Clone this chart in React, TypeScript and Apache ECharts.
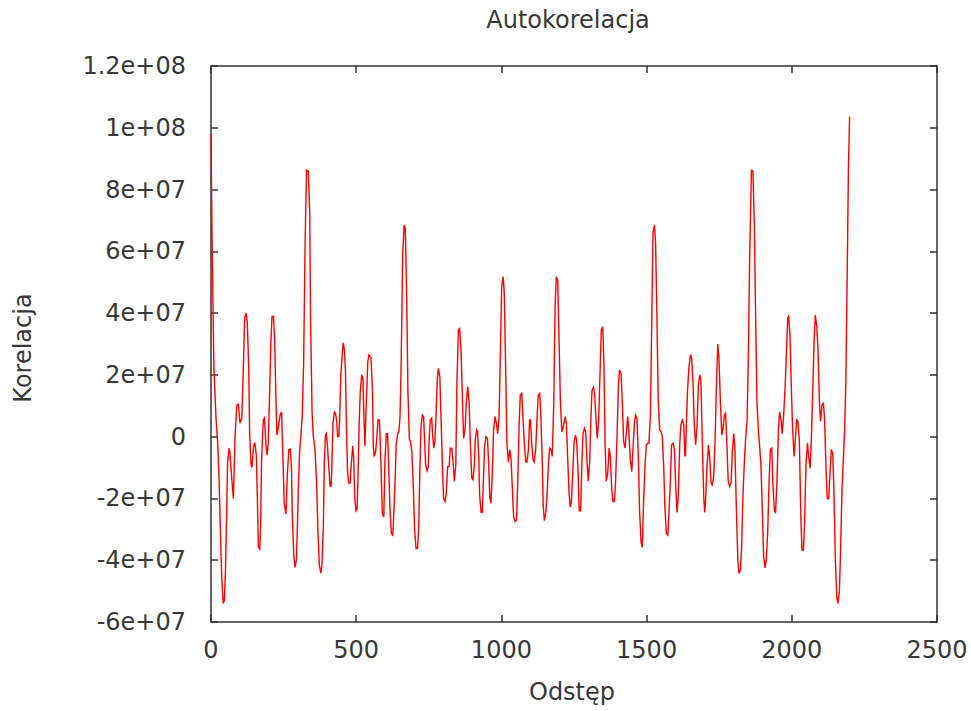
import React, { useEffect, useRef } from "react";
import * as echarts from "echarts";

// Autocorrelation: lag (Odstęp) and value in millions
const LAGS = [
  0, 4, 10, 17, 23, 28, 32, 37, 42, 46, 50, 54, 57, 62, 65, 71, 77, 83, 89, 94,
  100, 106, 111, 116, 121, 125, 130, 133, 138, 141, 147, 151, 156, 160, 163, 168, 171, 174, 180, 184,
  189, 193, 197, 201, 206, 210, 215, 219, 224, 227, 232, 238, 243, 248, 252, 258, 263, 268, 273, 277,
  280, 285, 289, 294, 297, 301, 305, 310, 314, 319, 324, 329, 335, 340, 343, 348, 352, 358, 364, 368,
  373, 378, 382, 387, 390, 394, 397, 401, 405, 410, 414, 417, 420, 425, 429, 433, 436, 440, 443, 447,
  451, 455, 459, 463, 466, 470, 474, 479, 483, 488, 491, 495, 499, 503, 506, 510, 514, 519, 523, 527,
  530, 535, 540, 544, 551, 556, 559, 562, 567, 572, 575, 580, 583, 587, 590, 595, 599, 604, 608, 612,
  616, 621, 626, 629, 634, 638, 643, 647, 651, 655, 660, 665, 669, 674, 678, 683, 688, 692, 697, 701,
  706, 711, 715, 719, 723, 728, 732, 736, 739, 744, 748, 752, 755, 760, 763, 767, 771, 775, 779, 783,
  788, 792, 797, 801, 806, 810, 815, 820, 824, 829, 833, 838, 843, 847, 852, 856, 861, 866, 870, 875,
  879, 884, 889, 893, 898, 902, 907, 910, 915, 918, 922, 925, 930, 934, 938, 942, 947, 952, 956, 960,
  964, 969, 973, 978, 983, 987, 992, 996, 1001, 1006, 1010, 1015, 1019, 1024, 1029, 1033, 1038, 1042, 1047, 1052,
  1056, 1061, 1065, 1070, 1074, 1079, 1084, 1088, 1093, 1097, 1100, 1104, 1109, 1113, 1118, 1123, 1127, 1132, 1136, 1141,
  1144, 1148, 1153, 1157, 1162, 1166, 1171, 1175, 1180, 1185, 1189, 1194, 1198, 1203, 1208, 1212, 1217, 1220, 1224, 1228,
  1233, 1237, 1241, 1246, 1250, 1255, 1259, 1264, 1268, 1273, 1277, 1281, 1286, 1290, 1295, 1299, 1304, 1308, 1312, 1317,
  1321, 1326, 1330, 1335, 1340, 1344, 1349, 1353, 1357, 1361, 1366, 1371, 1375, 1380, 1384, 1389, 1393, 1398, 1403, 1407,
  1412, 1416, 1421, 1426, 1430, 1435, 1439, 1444, 1449, 1453, 1458, 1462, 1467, 1472, 1476, 1481, 1485, 1490, 1495, 1499,
  1504, 1508, 1513, 1517, 1522, 1527, 1531, 1536, 1540, 1545, 1550, 1554, 1559, 1563, 1568, 1573, 1577, 1582, 1586, 1591,
  1596, 1600, 1605, 1609, 1614, 1618, 1623, 1628, 1632, 1634, 1637, 1641, 1646, 1651, 1655, 1660, 1664, 1669, 1674, 1678,
  1683, 1687, 1692, 1697, 1700, 1703, 1708, 1713, 1717, 1722, 1726, 1731, 1736, 1740, 1745, 1749, 1754, 1759, 1763, 1768,
  1772, 1777, 1781, 1786, 1791, 1795, 1800, 1804, 1809, 1814, 1818, 1823, 1827, 1832, 1837, 1841, 1846, 1850, 1855, 1861,
  1866, 1871, 1876, 1880, 1885, 1889, 1894, 1899, 1903, 1908, 1912, 1917, 1922, 1926, 1931, 1935, 1940, 1944, 1949, 1954,
  1958, 1963, 1967, 1972, 1977, 1981, 1986, 1989, 1994, 1998, 2003, 2008, 2012, 2017, 2021, 2026, 2031, 2035, 2040, 2044,
  2049, 2054, 2058, 2063, 2067, 2072, 2077, 2081, 2086, 2090, 2095, 2099, 2104, 2109, 2113, 2118, 2122, 2127, 2132, 2136,
  2141, 2145, 2150, 2155, 2159, 2164, 2168, 2173, 2178, 2182, 2186, 2190, 2195, 2199,
];

const CORR_MILLIONS = [
  98, 62, 22, 6.4, -2, -14, -29, -46, -54, -53, -43, -24.5, -8.6, -3.8, -5, -13, -20, 0.5, 10.3, 10.5,
  4.4, 6, 20.6, 38.4, 40, 37, 22, 1, -9, -10, -3, -2, -6, -21.6, -35.7, -36.4, -28, -8, 5.4, 6,
  -2.5, -6, -2, 10.9, 30, 38.8, 39, 32, 11, 0.5, 3, 7, 8, -8, -21.6, -25, -12, -4.2, -4, -9.7,
  -25, -38.5, -42.3, -40, -31, -16.2, -5, 1, 6.5, 23.8, 62.6, 86.3, 86, 72.3, 37.3, 8, 0.5, -4.2, -15.6, -30.2,
  -41.5, -44.2, -41.5, -29, -9, 0.5, 1, -3, -9, -16, -16, -6.5, 4.3, 8, 7.5, 5, 0, 0, 5.4, 20,
  25.5, 30.4, 28.3, 21.6, 5.4, -10.8, -15, -15, -9, -3, -6.4, -19.4, -24, -23.5, -13.9, 3.8, 14.6, 20, 19, 5.4,
  -3, 11.9, 24.3, 26.5, 25.5, 15, -3.2, -6.4, -4.8, 1, 5.4, 5.4, -2, -15, -24.9, -26, -7.5, 1, 1, -9.7,
  -22.8, -31.3, -31.9, -26, -13.9, -2.1, 1, 1.6, 6.5, 24.8, 58.2, 68.5, 67.5, 45.3, 15, -0.6, -2.1, -5.3, -17.3, -29.7,
  -36.2, -36.2, -30.2, -11.9, 3.2, 7, 6.5, -2.1, -9, -11, -9.7, 0.5, 5.4, 6, 1, -3.7, -1.6, 7, 18.4, 22.1,
  19.4, 6.5, -9.7, -20, -21, -18.4, -9.7, -9.7, -3.7, -3.7, -7.5, -14.4, -9, 18.4, 34.5, 35, 28.3, 11.4, -0.6, 2.7,
  10.8, 16.2, 10.8, -2.1, -13.3, -13.9, -9, -1, 2.2, 1.6, -6.4, -18.9, -24.5, -24.5, -14.4, -3.2, 0, -0.6, -8.6, -19.4,
  -21.6, -11, 2.2, 6.5, 4.3, 1, 6.5, 24.3, 48.5, 51.8, 46.4, 20, -2.2, -8.2, -4.2, -7, -17.3, -25.9, -27.5, -27,
  -15.6, 3.8, 13.5, 14, 6.5, -2.1, -8.2, -8.2, -4.2, 5.4, 5.4, -1.6, -7.5, -8.2, -4.2, 6.5, 13.5, 14, 6.5, -9,
  -22.3, -27.2, -24.6, -19.4, -9, -3.7, -4.2, -6.4, 9.7, 42, 51.8, 50.7, 33.4, 11.9, 1.6, 2.7, 5.4, 6.5, 3.8, -6.4,
  -18.4, -22.8, -21.1, -10.8, -2.1, 0.5, -1.2, -11, -24, -24, -9, 1, 2.7, 1.6, -8.2, -14.4, -8.2, 5.4, 15, 16,
  13.5, 5.4, -0.6, 5.4, 22, 34.5, 35.6, 23.8, -2.1, -14.4, -12, -3.7, -6.4, -16.8, -21, -21, -14.9, -0.6, 17, 21.6,
  20.5, 11.9, -1.7, -3.7, 1.2, 6.5, 1.2, -7.5, -11.3, -4.2, 4.3, 7, 5.9, -8.1, -24.5, -34.2, -35.8, -20, -8.6, -2.6,
  -2.1, -2.1, 6.5, 32.4, 65.8, 68.5, 62.6, 36.2, 11.9, 2.2, 1.6, 0, -9.7, -22.8, -31.3, -31.9, -24.9, -13.9, -2.6, -2.1,
  -4.2, -15.6, -24.5, -19.4, -2.6, 3.8, 5.4, 3.8, -6.4, -6, 4, 15, 22.7, 26.5, 25.5, 16.8, 4.3, -2.7, 3.8, 16.2,
  20, 18.4, -2.1, -20, -24.5, -20.5, -9.7, -2.7, -6.4, -14.9, -15.6, -13, -0.6, 15, 30, 25.9, 11.4, 0.5, 2.7, 7,
  7.6, -3.7, -14.4, -16.2, -14.9, -5.3, 1, -3.7, -22.8, -39.5, -44.3, -43.2, -36.2, -18.4, -7.5, -0.6, 5.4, 23.8, 58.7, 86.2,
  86, 69, 35, 11.4, 1.6, -2.7, -9.7, -25.4, -38.9, -42.5, -40, -30.8, -13.9, -4.2, -3.7, -15.6, -24, -24.5, -14.4, 2.2,
  8, 5.4, 1, 7, 16.2, 25.9, 38.4, 39, 32.4, 17.3, 1.6, -6.4, -1, 5.4, 5, -1.2, -25.4, -36.7, -36.7, -28,
  -8.6, -2.1, -6.4, -10.3, -2.1, 14.6, 31.8, 39.4, 35.6, 28.8, 11.4, 4.9, 10.3, 10.8, 5.4, -10.8, -20, -20, -11, -4.2,
  -5.3, -17.3, -40.1, -51.9, -54, -50, -36.7, -16.8, -6.4, 2.2, 17.3, 46.4, 86.9, 103.6,
];

const X_MIN = 0;
const X_MAX = 2500;
const X_STEP = 500;
const Y_MIN = -6e7;
const Y_MAX = 1.2e8;
const Y_STEP = 2e7;

const TITLE = "Autokorelacja";
const X_NAME = "Odstęp";
const Y_NAME = "Korelacja";

const FONT = "DejaVu Sans";
const TEXT_COLOR = "#383838";
const AXIS_COLOR = "#333";

function gnuplotG(v: number): string {
  if (v === 0) return "0";
  const e = Math.floor(Math.log10(Math.abs(v)) + 1e-9);
  const m = +(v / Math.pow(10, e)).toFixed(6);
  const sign = e >= 0 ? "+" : "-";
  return `${m}e${sign}${String(Math.abs(e)).padStart(2, "0")}`;
}

export default function App() {
  const ref = useRef<HTMLDivElement>(null);

  useEffect(() => {
    if (!ref.current) return;
    const chart = echarts.init(ref.current, undefined, { renderer: "svg" });
    const data = LAGS.map((l, i) => [l, CORR_MILLIONS[i] * 1e6]);

    const lineStyle = { color: AXIS_COLOR, width: 1.5 };
    const axisLine = { show: true, onZero: false, lineStyle };
    const tick = { show: true, inside: true, length: 7, lineStyle };
    const label = { fontFamily: FONT, fontSize: 24, color: TEXT_COLOR };

    chart.setOption({
      animation: false,
      backgroundColor: "#fff",
      grid: { left: 211, right: 34, top: 66, bottom: 89, containLabel: false },
      graphic: [
        {
          type: "text",
          x: 568,
          y: 20,
          style: {
            text: TITLE,
            font: `24px "${FONT}"`,
            fill: TEXT_COLOR,
            textAlign: "center",
            textVerticalAlign: "middle",
          },
        },
        {
          type: "text",
          x: 572,
          y: 692,
          style: {
            text: X_NAME,
            font: `24px "${FONT}"`,
            fill: TEXT_COLOR,
            textAlign: "center",
            textVerticalAlign: "middle",
          },
        },
        {
          type: "text",
          x: 23,
          y: 348,
          rotation: Math.PI / 2,
          style: {
            text: Y_NAME,
            font: `24px "${FONT}"`,
            fill: TEXT_COLOR,
            textAlign: "center",
            textVerticalAlign: "middle",
          },
        },
      ],
      xAxis: [
        {
          type: "value",
          min: X_MIN,
          max: X_MAX,
          interval: X_STEP,
          position: "bottom",
          axisLine,
          axisTick: tick,
          axisLabel: { ...label, margin: 16, formatter: (v: number) => String(v) },
          splitLine: { show: false },
        },
        {
          type: "value",
          min: X_MIN,
          max: X_MAX,
          interval: X_STEP,
          position: "top",
          axisLine,
          axisTick: tick,
          axisLabel: { show: false },
          splitLine: { show: false },
        },
      ],
      yAxis: [
        {
          type: "value",
          min: Y_MIN,
          max: Y_MAX,
          interval: Y_STEP,
          position: "left",
          axisLine,
          axisTick: tick,
          axisLabel: { ...label, margin: 25, formatter: gnuplotG },
          splitLine: { show: false },
        },
        {
          type: "value",
          min: Y_MIN,
          max: Y_MAX,
          interval: Y_STEP,
          position: "right",
          axisLine,
          axisTick: tick,
          axisLabel: { show: false },
          splitLine: { show: false },
        },
      ],
      series: [
        {
          type: "line",
          xAxisIndex: 0,
          yAxisIndex: 0,
          data,
          showSymbol: false,
          symbol: "none",
          lineStyle: { color: "#ff0000", width: 1.4, join: "miter" },
          z: 1,
        },
      ],
    });
    return () => chart.dispose();
  }, []);

  return (
    <div
      ref={ref}
      style={{ position: "fixed", left: 0, top: 0, width: 971, height: 711, background: "#fff" }}
    />
  );
}
